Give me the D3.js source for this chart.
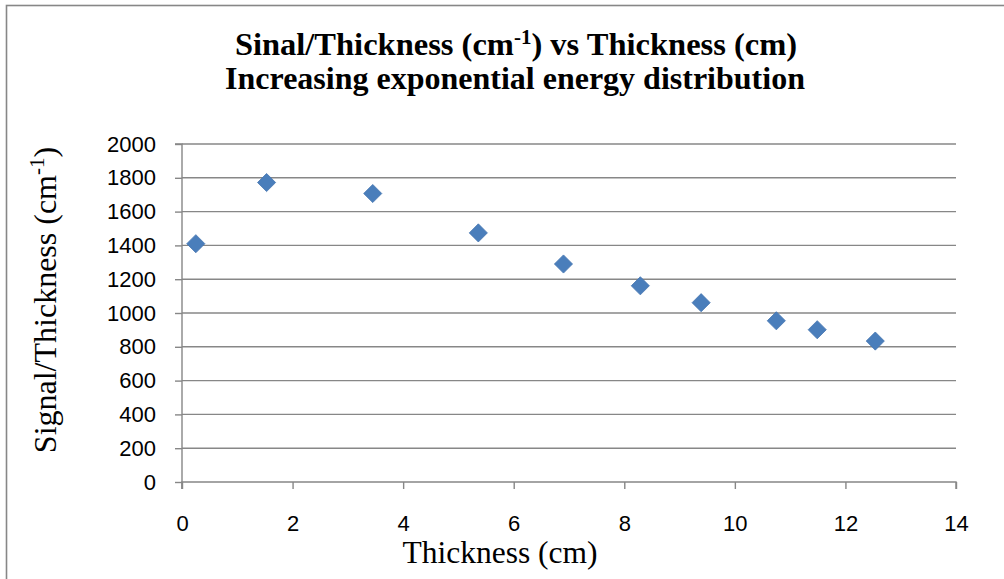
<!DOCTYPE html>
<html>
<head>
<meta charset="utf-8">
<script src="https://cdn.jsdelivr.net/npm/d3@7"></script>
<style>
  body { margin: 0; background: #fff; }
  svg { display: block; }
</style>
</head>
<body>
<svg id="chart" width="1004" height="579"></svg>
<script>
// data
var thickness = [0.25, 1.53, 3.45, 5.36, 6.90, 8.29, 9.39, 10.75, 11.49, 12.54];
var signalPerThickness = [1410, 1772, 1707, 1474, 1290, 1161, 1061, 954, 901, 834];
var xTicks = [0, 2, 4, 6, 8, 10, 12, 14];
var yTicks = [0, 200, 400, 600, 800, 1000, 1200, 1400, 1600, 1800, 2000];

var svg = d3.select("#chart");
var W = 1004, H = 579;
var plotLeft = 182, plotRight = 956, plotTop = 144, plotBottom = 482;
var grey = "#878787";

// outer frame (right and bottom edges run off the picture)
svg.append("rect")
  .attr("x", 6.5).attr("y", 5.5)
  .attr("width", W + 20).attr("height", H + 20)
  .attr("fill", "none").attr("stroke", grey).attr("stroke-width", 1.6);

var x = d3.scaleLinear().domain([0, 14]).range([plotLeft, plotRight]);
var y = d3.scaleLinear().domain([0, 2000]).range([plotBottom, plotTop]);

// gridlines
svg.append("g").selectAll("line")
  .data(yTicks.filter(function(d) { return d > 0; }))
  .enter().append("line")
  .attr("x1", plotLeft).attr("x2", plotRight)
  .attr("y1", function(d) { return y(d); })
  .attr("y2", function(d) { return y(d); })
  .attr("stroke", grey).attr("stroke-width", 1.4);

// y axis
var yAxis = svg.append("g")
  .attr("transform", "translate(" + plotLeft + ",0)")
  .call(d3.axisLeft(y).tickValues(yTicks).tickSize(7).tickPadding(19).tickFormat(d3.format("d")));

// x axis
var xAxis = svg.append("g")
  .attr("transform", "translate(0," + plotBottom + ")")
  .call(d3.axisBottom(x).tickValues(xTicks).tickSize(7).tickPadding(26).tickFormat(d3.format("d")));

[xAxis, yAxis].forEach(function(a) {
  a.select(".domain").attr("stroke", grey).attr("stroke-width", 1.4);
  a.selectAll(".tick line").attr("stroke", grey).attr("stroke-width", 1.4);
  a.selectAll(".tick text")
    .attr("fill", "#000")
    .style("font-family", "'Liberation Sans', Arial, sans-serif")
    .style("font-size", "22px");
});
xAxis.select(".domain").attr("d", "M" + plotLeft + ",7V0H" + plotRight + "V7");
yAxis.select(".domain").attr("d", "M-7," + plotTop + "H0V" + (plotBottom + 7));

// points
var diamond = d3.symbol().type(d3.symbolDiamond2).size(210);
svg.append("g").selectAll("path")
  .data(thickness)
  .enter().append("path")
  .attr("transform", function(d, i) {
    return "translate(" + x(d) + "," + y(signalPerThickness[i]) + ")";
  })
  .attr("d", diamond)
  .attr("fill", "#4a7ebb")
  .attr("stroke", "#4575b0")
  .attr("stroke-width", 0.8);

// titles
var serif = "'Liberation Serif', 'Times New Roman', serif";
var t1 = svg.append("text")
  .attr("x", 516).attr("y", 55)
  .attr("text-anchor", "middle")
  .style("font-family", serif).style("font-weight", "bold").style("font-size", "32.5px");
t1.append("tspan").text("Sinal/Thickness (cm");
t1.append("tspan").attr("dy", -11).style("font-size", "21px").text("-1");
t1.append("tspan").attr("dy", 11).text(") vs Thickness (cm)");

svg.append("text")
  .attr("x", 515).attr("y", 89)
  .attr("text-anchor", "middle")
  .style("font-family", serif).style("font-weight", "bold").style("font-size", "32px")
  .text("Increasing exponential energy distribution");

svg.append("text")
  .attr("x", 500).attr("y", 563)
  .attr("text-anchor", "middle")
  .style("font-family", serif).style("font-size", "31.5px")
  .text("Thickness (cm)");

var yl = svg.append("text")
  .attr("transform", "translate(56,300) rotate(-90)")
  .attr("text-anchor", "middle")
  .style("font-family", serif).style("font-size", "32px");
yl.append("tspan").text("Signal/Thickness (cm");
yl.append("tspan").attr("dy", -12).style("font-size", "21px").text("-1");
yl.append("tspan").attr("dy", 12).text(")");
</script>
</body>
</html>
